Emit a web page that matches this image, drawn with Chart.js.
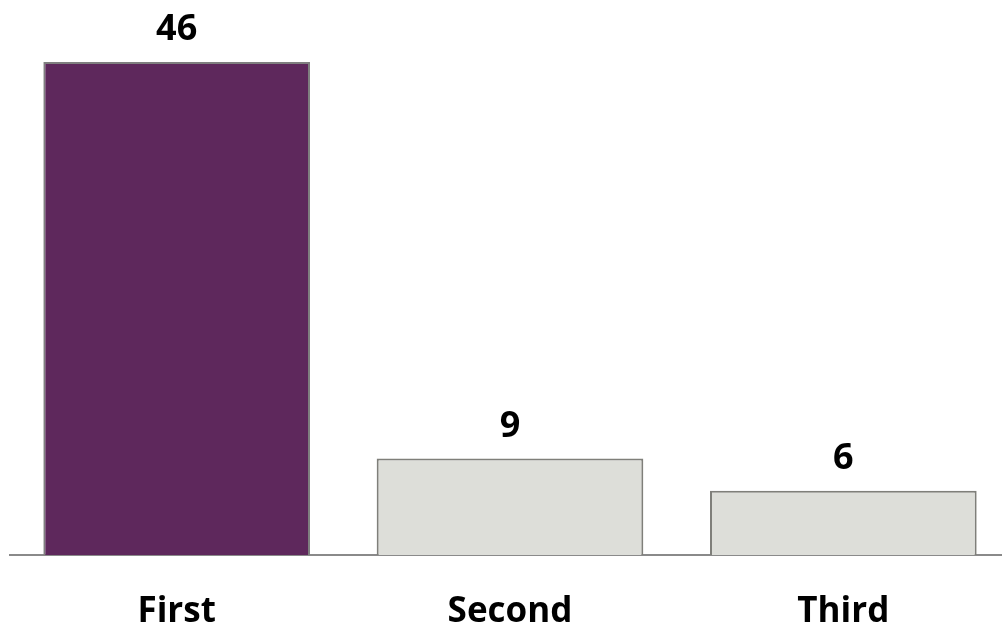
<!DOCTYPE html>
<html>
<head>
<meta charset="utf-8">
<script src="https://cdn.jsdelivr.net/npm/chart.js@4.4.1/dist/chart.umd.min.js"></script>
<style>
  html, body { margin: 0; padding: 0; background: #fff; overflow: hidden; }
  #wrap { position: absolute; left: 0; top: 0; width: 1012px; height: 628px; }
</style>
</head>
<body>
<div id="wrap"><canvas id="chart"></canvas></div>
<script>
"use strict";

const CATEGORIES = ["First", "Second", "Third"];
const VALUES     = [46, 9, 6];
const FILLS      = ["#5E285C", "#DDDED9", "#DDDED9"];
const BORDERS    = ["#7F7F7F", "#7F7F7A", "#7F7F7A"];

const FONT = "'Open Sans', 'DejaVu Sans', sans-serif";

// Étiquettes de valeur au-dessus des barres
const valueLabels = {
  id: "valueLabels",
  afterDatasetsDraw(chart) {
    const ctx = chart.ctx;
    const meta = chart.getDatasetMeta(0);
    ctx.save();
    ctx.font = "bold 36px " + FONT;
    ctx.fillStyle = "#000";
    ctx.textAlign = "center";
    ctx.textBaseline = "alphabetic";
    meta.data.forEach((bar, i) => {
      ctx.fillText(String(VALUES[i]), bar.x, bar.y - 22);
    });
    ctx.restore();
  },
};

new Chart(document.getElementById("chart"), {
  type: "bar",
  data: {
    labels: CATEGORIES,
    datasets: [{
      data:            VALUES,
      backgroundColor: FILLS,
      borderColor:     BORDERS,
      borderWidth:     2,
      categoryPercentage: 0.8,
      barPercentage:   1.0,
    }],
  },
  options: {
    responsive:          true,
    maintainAspectRatio: false,
    animation:           false,
    layout: { padding: { left: 10, right: 2, top: 19, bottom: 0 } },
    plugins: {
      legend:  { display: false },
      tooltip: { enabled: false },
    },
    scales: {
      x: {
        grid:   { display: false, drawTicks: false },
        border: { display: true, color: "#8A8A8A", width: 2 },
        ticks:  { color: "#000", padding: 36, font: { family: FONT, size: 35, weight: "bold" } },
        afterFit(scale) { scale.height = 73; },
      },
      y: {
        display: false,
        min: 0,
        max: 50,
      },
    },
  },
  plugins: [valueLabels],
});
</script>
</body>
</html>
